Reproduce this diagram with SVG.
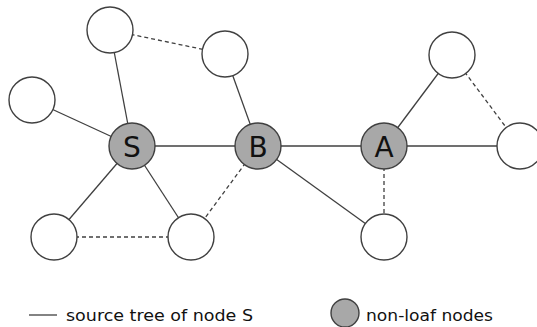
<svg xmlns="http://www.w3.org/2000/svg" width="537" height="327" viewBox="0 0 537 327">
  <style>
    .edge { stroke: #404040; stroke-width: 1.3; fill: none; }
    .dash { stroke-dasharray: 4 3; }
    .leaf { fill: #ffffff; stroke: #404040; stroke-width: 1.4; }
    .core { fill: #a8a8a8; stroke: #404040; stroke-width: 1.4; }
    .lbl { font-family: "DejaVu Sans", "Liberation Sans", sans-serif; font-size: 28px; fill: #111; text-anchor: middle; }
    .leg { font-family: "DejaVu Sans", "Liberation Sans", sans-serif; font-size: 16px; fill: #111; }
  </style>
  <rect width="537" height="327" fill="#ffffff"/>
  <g id="connectors">
    <line class="edge" x1="132" y1="146" x2="258" y2="146"/>
    <line class="edge" x1="258" y1="146" x2="384" y2="146"/>
    <line class="edge" x1="384" y1="146" x2="520" y2="146"/>
    <line class="edge" x1="132" y1="146" x2="110" y2="30"/>
    <line class="edge" x1="132" y1="146" x2="32" y2="100"/>
    <line class="edge" x1="132" y1="146" x2="54" y2="237"/>
    <line class="edge" x1="132" y1="146" x2="191" y2="237"/>
    <line class="edge" x1="258" y1="146" x2="225" y2="54"/>
    <line class="edge" x1="258" y1="146" x2="384" y2="237"/>
    <line class="edge" x1="384" y1="146" x2="452" y2="55"/>
    <line class="edge dash" x1="452" y1="55" x2="520" y2="146"/>
    <line class="edge dash" x1="384" y1="146" x2="384" y2="237"/>
    <line class="edge dash" x1="258" y1="146" x2="191" y2="237"/>
    <line class="edge dash" x1="54" y1="237" x2="191" y2="237"/>
    <line class="edge dash" x1="110" y1="30" x2="225" y2="54"/>
  </g>
  <g id="node-top-left"><circle class="leaf" cx="110" cy="30" r="23"/></g>
  <g id="node-top-mid"><circle class="leaf" cx="225" cy="54" r="23"/></g>
  <g id="node-left"><circle class="leaf" cx="32" cy="100" r="23"/></g>
  <g id="node-top-right"><circle class="leaf" cx="452" cy="55" r="23"/></g>
  <g id="node-right"><circle class="leaf" cx="520" cy="146" r="23"/></g>
  <g id="node-bottom-left"><circle class="leaf" cx="54" cy="237" r="23"/></g>
  <g id="node-bottom-mid"><circle class="leaf" cx="191" cy="237" r="23"/></g>
  <g id="node-bottom-right"><circle class="leaf" cx="384" cy="237" r="23"/></g>
  <g id="node-S"><circle class="core" cx="132" cy="146" r="23"/><text class="lbl" x="132" y="156.5">S</text></g>
  <g id="node-B"><circle class="core" cx="258" cy="146" r="23"/><text class="lbl" x="258" y="156.5">B</text></g>
  <g id="node-A"><circle class="core" cx="384" cy="146" r="23"/><text class="lbl" x="384" y="156.5">A</text></g>
  <g id="legend">
    <line x1="29" y1="315" x2="57" y2="315" stroke="#404040" stroke-width="1.3"/>
    <text class="leg" x="66" y="321" textLength="187" lengthAdjust="spacingAndGlyphs">source tree of node S</text>
    <circle class="core" cx="345" cy="313" r="14"/>
    <text class="leg" x="366" y="321" textLength="127" lengthAdjust="spacingAndGlyphs">non-loaf nodes</text>
  </g>
</svg>
